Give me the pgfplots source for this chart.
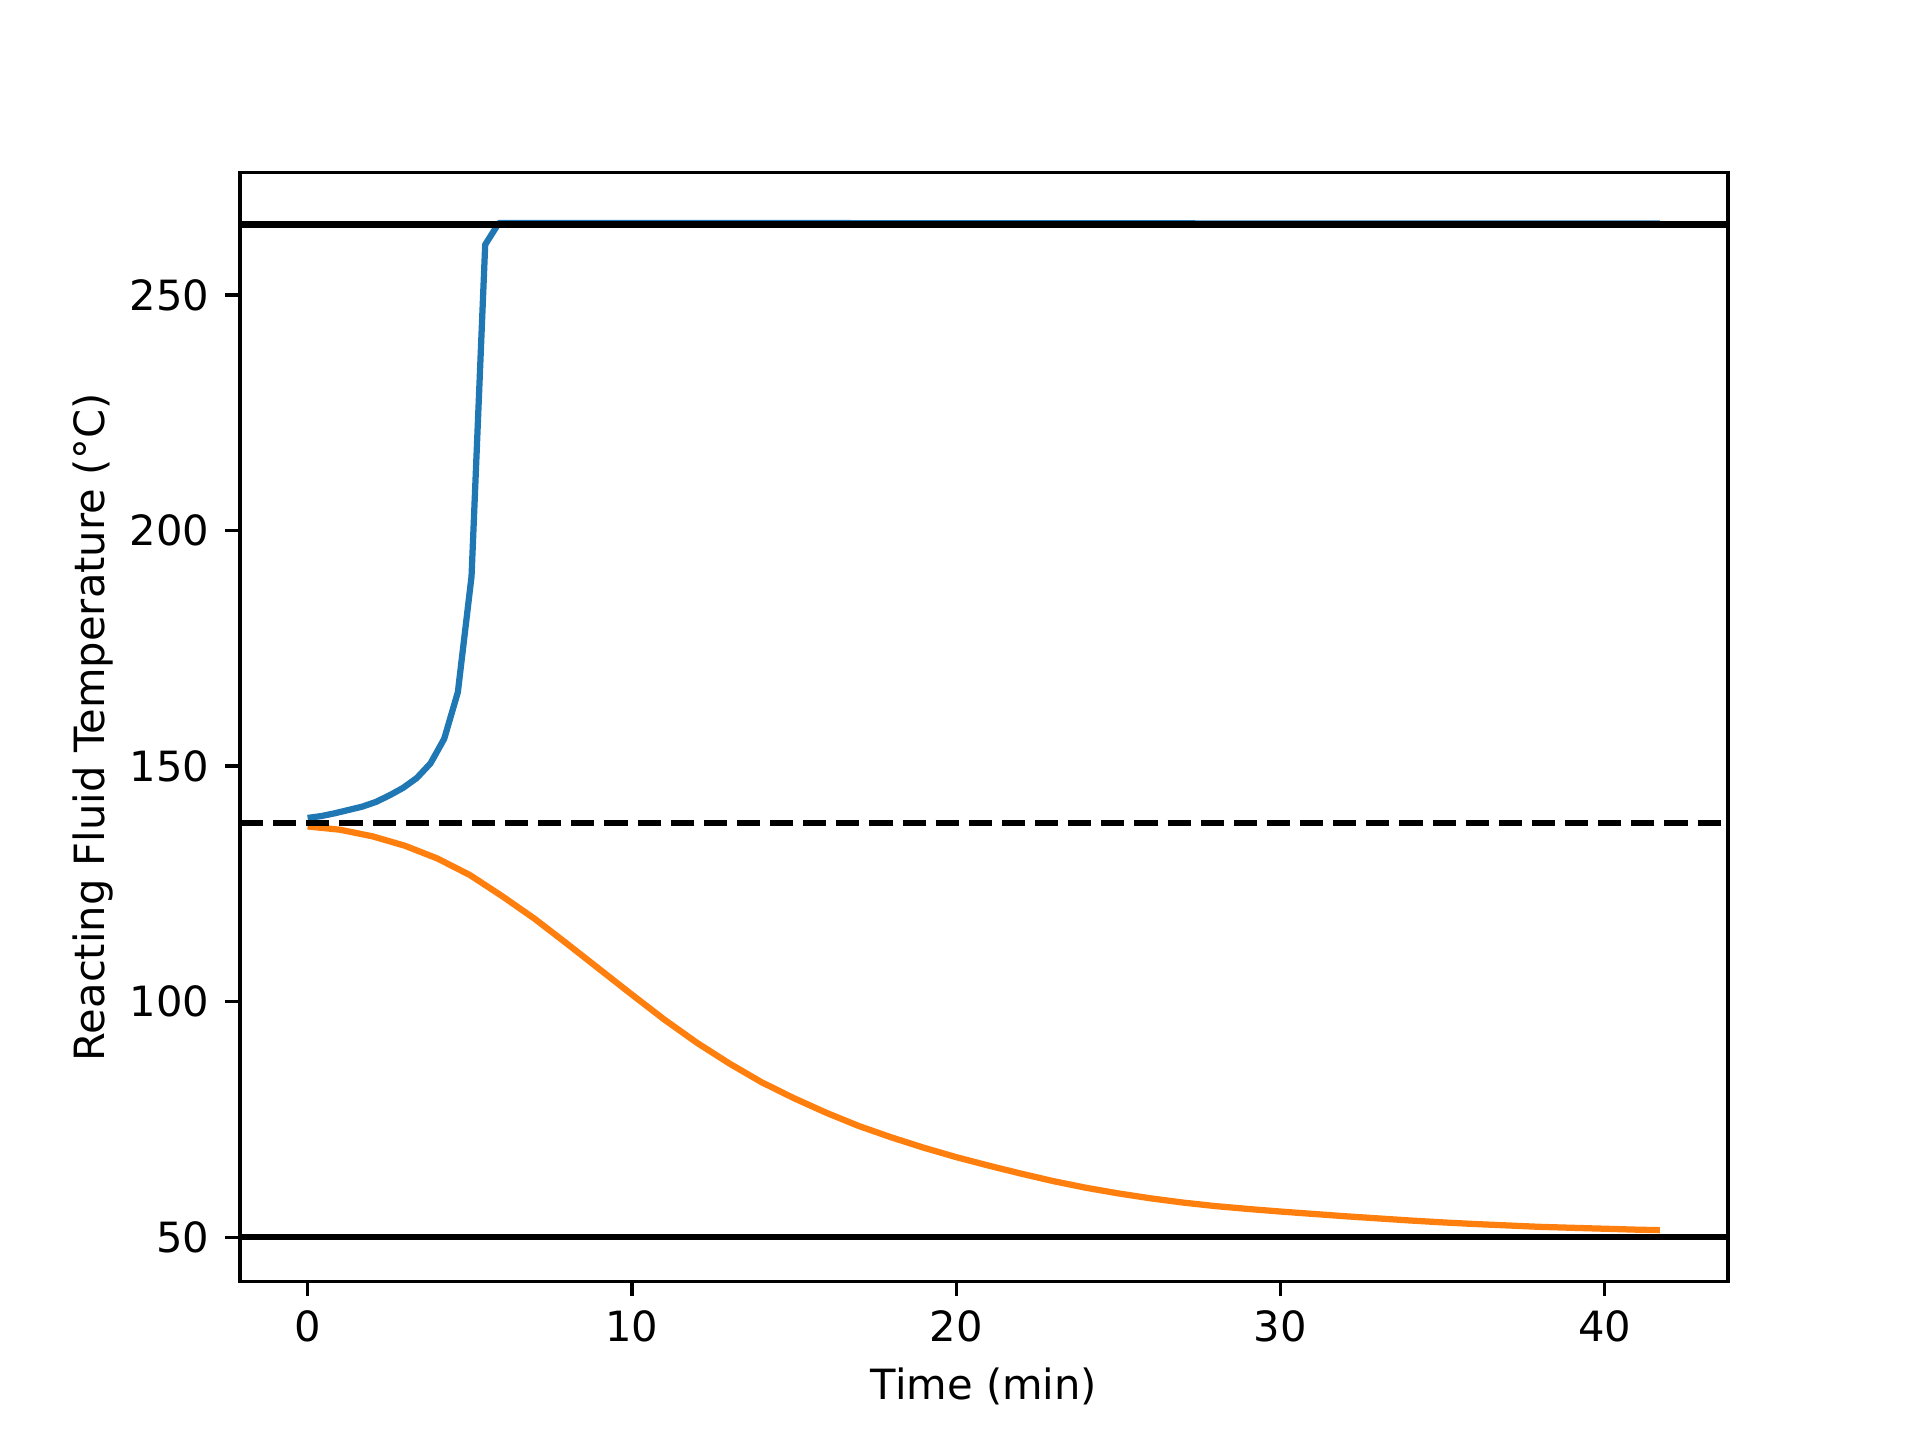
\documentclass[border=0pt]{standalone}
\usepackage{fontspec}
\setmainfont{DejaVu Sans}
\usepackage{pgfplots}
\pgfplotsset{compat=1.18}
\definecolor{mblue}{HTML}{1F77B4}
\definecolor{morange}{HTML}{FF7F0E}
\begin{document}
\begin{tikzpicture}[font=\fontsize{10bp}{12bp}\selectfont]
\begin{axis}[name=ax, scale only axis,
  width=357.12bp, height=266.11bp,
  xmin=-2.085, xmax=43.8, ymin=40.58, ymax=275.95,
  xtick={0,10,20,30,40}, ytick={50,100,150,200,250},
  xtick pos=left, ytick pos=left,
  tick align=outside, major tick length=3.5bp,
  tick style={line width=0.8bp, black},
  axis line style={line width=0.8bp},
  /pgf/number format/assume math mode=true,
  xticklabel style={anchor=base, inner sep=0pt, yshift=-10.9bp},
  yticklabel style={anchor=base east, inner sep=0pt, yshift=-3.65bp, xshift=-3.7bp},
  xlabel={Time (min)}, ylabel={Reacting Fluid Temperature (°C)},
  xlabel style={at={(axis description cs:0.5,-0.106)}, anchor=base, inner sep=0pt},
  ylabel style={at={(axis description cs:-0.0913,0.5)}, anchor=base, inner sep=0pt, rotate=0},
  clip=true,
]
\addplot[mblue, line width=1.5bp, line join=round] coordinates {
(0,139.0) (0.421,139.4) (0.842,140.0) (1.264,140.7) (1.685,141.4) (2.106,142.4)
(2.527,143.8) (2.948,145.4) (3.370,147.5) (3.791,150.6) (4.212,155.8) (4.633,165.7)
(5.055,190.3) (5.476,260.7) (5.897,265.3) (10,265.3) (20,265.25) (30,265.2) (41.7,265.2)
};
\addplot[morange, line width=1.5bp, line join=round] coordinates {
(0,137.2) (1,136.5) (2,135.1) (3,133.1) (4,130.4) (5,126.9) (6,122.4) (7,117.6)
(8,112.3) (9,106.9) (10,101.5) (11,96.2) (12,91.3) (13,86.9) (14,82.9) (15,79.5)
(16,76.4) (17,73.6) (18,71.2) (19,69.0) (20,67.0) (21,65.2) (22,63.5) (23,61.9)
(24,60.5) (25,59.3) (26,58.25) (27,57.35) (28,56.6) (29,56.0) (30,55.45) (31,54.95)
(32,54.45) (33,54.0) (34,53.55) (35,53.15) (36,52.8) (37,52.5) (38,52.2) (39,52.0)
(40,51.8) (41,51.6) (41.7,51.5)
};
\addplot[black, line width=1.5bp] coordinates {(-2.085,265) (43.8,265)};
\addplot[black, line width=1.5bp] coordinates {(-2.085,50) (43.8,50)};
\addplot[black, line width=1.5bp, dash pattern=on 5.55bp off 2.4bp] coordinates {(-2.085,138) (43.8,138)};
\end{axis}
\path ([shift={(-0.8in,-0.528in)}]ax.south west) rectangle ([shift={(0.64in,0.576in)}]ax.north east);
\end{tikzpicture}
\end{document}
